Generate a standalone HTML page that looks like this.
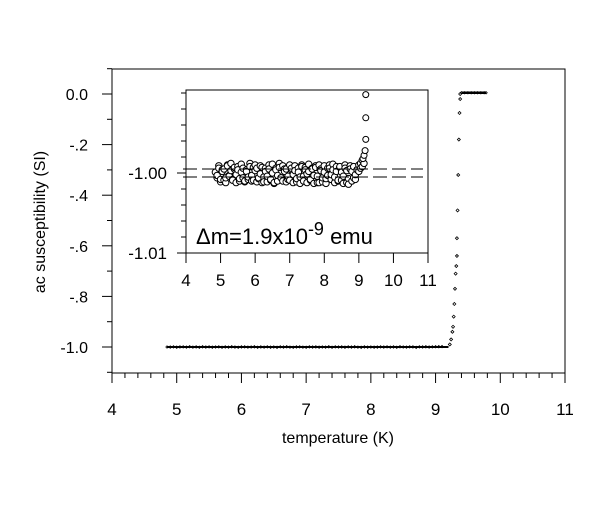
<!DOCTYPE html>
<html><head><meta charset="utf-8"><style>
body{margin:0;background:#fff}
svg text{font-family:"Liberation Sans",Arial,sans-serif;fill:#000}
</style></head><body>
<svg width="599" height="500" viewBox="0 0 599 500" xmlns="http://www.w3.org/2000/svg">
<g id="main"></g>
<g id="inset"></g>
<text x="338" y="443" font-size="16" text-anchor="middle">temperature (K)</text>
<text transform="translate(45,222) rotate(-90)" font-size="16" text-anchor="middle">ac susceptibility (SI)</text>
<text x="196" y="244" font-size="22">Δm=1.9x10<tspan dy="-9" font-size="18">-9</tspan><tspan dy="9"> emu</tspan></text>
</svg>
<script>
const xTicks=[4,5,6,7,8,9,10,11];
const yTicksMain=[0.0,-0.2,-0.4,-0.6,-0.8,-1.0];
const yTickLabelsMain=["0.0","-.2","-.4","-.6","-.8","-1.0"];
const yTicksInset=[-1.00,-1.01];
const yTickLabelsInset=["-1.00","-1.01"];
const flatT=[4.85,4.9,4.95,5.0,5.05,5.1,5.15,5.2,5.25,5.3,5.35,5.4,5.45,5.5,5.55,5.6,5.65,5.7,5.75,5.8,5.85,5.9,5.95,6.0,6.05,6.1,6.15,6.2,6.25,6.3,6.35,6.4,6.45,6.5,6.55,6.6,6.65,6.7,6.75,6.8,6.85,6.9,6.95,7.0,7.05,7.1,7.15,7.2,7.25,7.3,7.35,7.4,7.45,7.5,7.55,7.6,7.65,7.7,7.75,7.8,7.85,7.9,7.95,8.0,8.05,8.1,8.15,8.2,8.25,8.3,8.35,8.4,8.45,8.5,8.55,8.6,8.65,8.7,8.75,8.8,8.85,8.9,8.95,9.0,9.05,9.1];
const flatDev=[1,-3,6,-8,2,5,-6,9,-4,3,-9,7,-2,4,-7,1,6,-10,2,-5,8,-3,-9,3,6,-6,-1,7,-11,2,-4,5,-8,0,-12,4,-3,7,-6,-10,2,5,-4,-9,6,-2,3,-7,1,-5,8,-10,4,-1,2,-8,5,-3,7,-4,-12,3,-6,1,-7,-3,6,-2,4,-5,2,-9,8,1,-4,6,3,-14,5,2,8,-2,4,10,12,16];
const flatDev2=[-6,9,-11,4,-9,-12,10,-3,12,-8,5,-12,8,-10,11,-6,-11,4,-8,12,-10,7,10,-11,-7,9,-12,-5,6,-11,10,-9,11,-13,6,-10,12,-6,9,5,-11,-8,10,4,-12,9,-11,6,-13,10,-4,7,-12,11,-9,6,-13,9,-12,10,5,-11,9,-13,6,10,-8,11,-12,8,-10,7,-9,-13,10,-12,-7,9,-10,-6,-8,4,2,6,8,12];
const riseT=[9.12,9.15,9.18,9.2,9.2,9.2];
const riseDev=[18,22,28,42,69,98];
const transT=[9.22,9.24,9.26,9.27,9.28,9.29,9.3,9.31,9.32,9.33,9.33,9.34,9.35,9.36,9.37,9.38,9.38];
const transV=[-0.99,-0.97,-0.94,-0.92,-0.88,-0.83,-0.77,-0.71,-0.68,-0.64,-0.57,-0.46,-0.32,-0.18,-0.075,-0.02,0.0];
const plateauT=[9.4,9.45,9.5,9.55,9.6,9.65,9.7,9.75,9.78];
const plateauV=[0.005,0.005,0.005,0.005,0.005,0.005,0.005,0.005,0.005];
const NS="http://www.w3.org/2000/svg";
function el(p,t,a){const e=document.createElementNS(NS,t);for(const k in a)e.setAttribute(k,a[k]);p.appendChild(e);return e;}
const mx=v=>112+(v-4)*(453/7), my=v=>94-v*253;
const M=document.getElementById('main');
const fr=el(M,'rect',{x:112,y:69,width:453,height:304,fill:'none',stroke:'#000','stroke-width':1});


for(let i=0;i<=35;i++){const v=4+i*0.2;const x=mx(v);const major=i%5===0;
 el(M,'line',{x1:x,x2:x,y1:373,y2:major?383:378,stroke:'#000'});}
xTicks.forEach(t=>{const tx=el(M,'text',{x:mx(t),y:415,'font-size':17,'text-anchor':'middle'});tx.textContent=t;
 
 });
for(let i=-11;i<=1;i++){const y=my(i/10);const major=i%2===0;el(M,'line',{x1:112,x2:major?102:107,y1:y,y2:y,stroke:'#000'});}
yTicksMain.forEach((t,i)=>{const tx=el(M,'text',{x:88,y:my(t)+6,'font-size':16,'text-anchor':'end'});tx.textContent=yTickLabelsMain[i];
 
 });
function dia(g,x,y,s){el(g,'path',{d:`M${x-s},${y}L${x},${y-s}L${x+s},${y}L${x},${y+s}Z`,fill:'none',stroke:'#000','stroke-width':0.8});}
flatT.forEach((t,i)=>dia(M,mx(t),my(-1+flatDev[i]*1e-4),1.2));
el(M,'line',{x1:mx(4.85),x2:mx(9.2),y1:my(-1),y2:my(-1),stroke:'#000','stroke-width':2});
transT.forEach((t,i)=>dia(M,mx(t),my(transV[i]),1.5));
el(M,'line',{x1:mx(9.4),x2:mx(9.78),y1:my(0.005),y2:my(0.005),stroke:'#000','stroke-width':2.5});
plateauT.forEach((t,i)=>dia(M,mx(t),my(plateauV[i]),1.2));
const ix=v=>186+(v-4)*(242/7), iy=v=>173-(v+1)*8000;
const I=document.getElementById('inset');
el(I,'rect',{x:186,y:90,width:242,height:163,fill:'#fff',stroke:'#000'});
for(let i=0;i<=7;i++){const x=ix(4+i);el(I,'line',{x1:x,x2:x,y1:253,y2:263,stroke:'#000'});}
xTicks.forEach(t=>{const tx=el(I,'text',{x:ix(t),y:286,'font-size':17,'text-anchor':'middle'});tx.textContent=t;
 
 });
for(let i=0;i<=10;i++){const v=-1.01+i*0.002;const y=iy(v);if(y<90)continue;const major=Math.abs(v+1)<1e-9||Math.abs(v+1.01)<1e-9;
 el(I,'line',{x1:186,x2:major?177:181,y1:y,y2:y,stroke:'#000'});}
yTicksInset.forEach((t,i)=>{const tx=el(I,'text',{x:167,y:iy(t)+6,'font-size':17,'text-anchor':'end'});tx.textContent=yTickLabelsInset[i];
 
 });
flatT.forEach((t,i)=>{el(I,'circle',{cx:ix(t),cy:iy(-1+flatDev[i]*1e-4),r:3.2,fill:'#fff',stroke:'#000','stroke-width':1});
 el(I,'circle',{cx:ix(t)+1.7,cy:iy(-1+flatDev2[i]*1e-4),r:3.2,fill:'#fff',stroke:'#000','stroke-width':1});});
riseT.forEach((t,i)=>el(I,'circle',{cx:ix(t),cy:iy(-1+riseDev[i]*1e-4),r:3,fill:'#fff',stroke:'#000','stroke-width':1}));
[-0.9995,-1.0005].forEach(v=>{el(I,'line',{x1:183,x2:423,y1:iy(v),y2:iy(v),stroke:'#000','stroke-dasharray':'14,5'});});
</script>
</body></html>
